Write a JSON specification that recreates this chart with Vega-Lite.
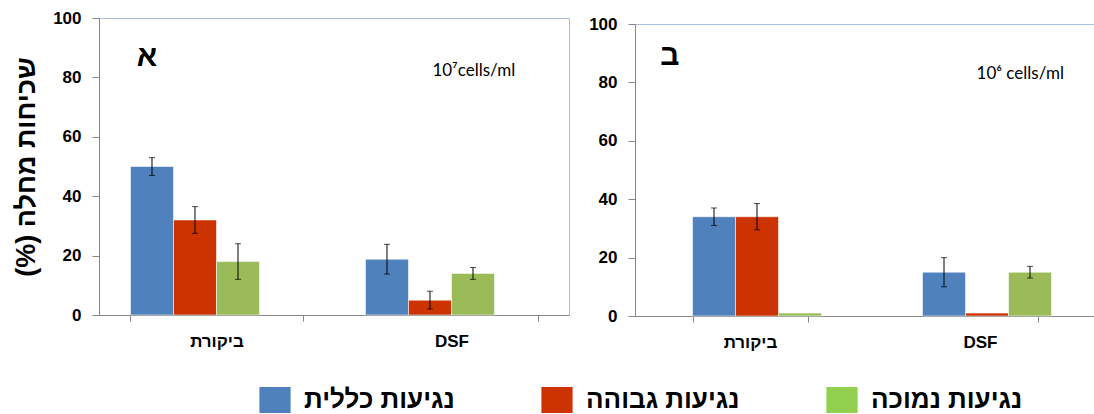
{
  "$schema": "https://vega.github.io/schema/vega-lite/v6.json",
  "background": "white",
  "padding": {"left": 12, "top": 8, "right": 0, "bottom": 0},
  "spacing": 18,
  "datasets": {
    "a": [
      {"cat": "ביקורת", "series": "נגיעות כללית", "value": 50, "lo": 47, "hi": 53},
      {"cat": "ביקורת", "series": "נגיעות גבוהה", "value": 32, "lo": 27.5, "hi": 36.5},
      {"cat": "ביקורת", "series": "נגיעות נמוכה", "value": 18, "lo": 12, "hi": 24},
      {"cat": "DSF", "series": "נגיעות כללית", "value": 18.8, "lo": 13.8, "hi": 23.8},
      {"cat": "DSF", "series": "נגיעות גבוהה", "value": 5, "lo": 2, "hi": 8},
      {"cat": "DSF", "series": "נגיעות נמוכה", "value": 14, "lo": 12, "hi": 16}
    ],
    "b": [
      {"cat": "ביקורת", "series": "נגיעות כללית", "value": 34, "lo": 31, "hi": 37},
      {"cat": "ביקורת", "series": "נגיעות גבוהה", "value": 34, "lo": 29.5, "hi": 38.5},
      {"cat": "ביקורת", "series": "נגיעות נמוכה", "value": 1, "lo": null, "hi": null},
      {"cat": "DSF", "series": "נגיעות כללית", "value": 15, "lo": 10, "hi": 20},
      {"cat": "DSF", "series": "נגיעות גבוהה", "value": 1, "lo": null, "hi": null},
      {"cat": "DSF", "series": "נגיעות נמוכה", "value": 15, "lo": 13, "hi": 17}
    ],
    "notesA1": [{"cat": "ביקורת", "y": 87, "text": "א"}],
    "notesA2": [{"cat": "DSF", "y": 82, "text": "10⁷cells/ml"}],
    "notesB1": [{"cat": "ביקורת", "y": 89, "text": "ב"}],
    "notesB2": [{"cat": "DSF", "y": 83, "text": "10⁶ cells/ml"}],
    "blank": [{"k": 0}]
  },
  "hconcat": [
    {
      "width": 470,
      "height": 297,
      "layer": [
        {
          "data": {"name": "a"},
          "mark": {"type": "bar", "stroke": "#FFFFFF", "strokeWidth": 0.8, "strokeOpacity": 0.7},
          "encoding": {
            "x": {"field": "cat", "type": "nominal", "sort": ["ביקורת", "DSF"],
                  "scale": {"paddingInner": 0.268, "paddingOuter": 0.134},
                  "axis": {"title": null, "labelAngle": 0, "tickBand": "extent", "tickSize": 6, "labelPadding": 12}},
            "xOffset": {"field": "series", "type": "nominal",
                        "scale": {"domain": ["נגיעות כללית", "נגיעות גבוהה", "נגיעות נמוכה", "—"]}},
            "y": {"field": "value", "type": "quantitative",
                  "scale": {"domain": [0, 100]},
                  "axis": {"values": [0, 20, 40, 60, 80, 100], "title": "(%) שכיחות מחלה",
                           "titleFontSize": 27, "titleFontWeight": "bold", "titlePadding": 12}},
            "color": {"condition": {"test": "datum.series === 'נגיעות נמוכה'", "value": "#9BBB59"},
                      "field": "series", "type": "nominal",
                      "scale": {"domain": ["נגיעות כללית", "נגיעות גבוהה", "נגיעות נמוכה"],
                                "range": ["#4F81BD", "#CC3300", "#92D050"]},
                      "legend": {"orient": "none", "legendX": 163, "legendY": 369, "direction": "horizontal",
                                 "title": null, "columnPadding": 86}}
          }
        },
        {
          "data": {"name": "a"},
          "mark": {"type": "rule", "color": "#000000", "strokeWidth": 1},
          "encoding": {
            "x": {"field": "cat", "type": "nominal", "sort": ["ביקורת", "DSF"]},
            "xOffset": {"field": "series", "type": "nominal"},
            "y": {"field": "lo", "type": "quantitative"},
            "y2": {"field": "hi"}
          }
        },
        {
          "data": {"name": "a"},
          "mark": {"type": "tick", "color": "#000000", "thickness": 1, "size": 6},
          "encoding": {
            "x": {"field": "cat", "type": "nominal", "sort": ["ביקורת", "DSF"]},
            "xOffset": {"field": "series", "type": "nominal"},
            "y": {"field": "lo", "type": "quantitative"}
          }
        },
        {
          "data": {"name": "a"},
          "mark": {"type": "tick", "color": "#000000", "thickness": 1, "size": 6},
          "encoding": {
            "x": {"field": "cat", "type": "nominal", "sort": ["ביקורת", "DSF"]},
            "xOffset": {"field": "series", "type": "nominal"},
            "y": {"field": "hi", "type": "quantitative"}
          }
        },
        {
          "data": {"name": "notesA1"},
          "mark": {"type": "text", "font": "Liberation Sans", "fontWeight": "bold", "fontSize": 30, "align": "center", "baseline": "middle", "color": "#000000"},
          "encoding": {
            "x": {"field": "cat", "type": "nominal", "sort": ["ביקורת", "DSF"], "bandPosition": 0.096},
            "y": {"field": "y", "type": "quantitative"},
            "text": {"field": "text"}
          }
        },
        {
          "data": {"name": "notesA2"},
          "mark": {"type": "text", "font": "Lato", "fontSize": 17, "align": "center", "baseline": "middle", "color": "#000000"},
          "encoding": {
            "x": {"field": "cat", "type": "nominal", "sort": ["ביקורת", "DSF"], "bandPosition": 0.63},
            "y": {"field": "y", "type": "quantitative"},
            "text": {"field": "text"}
          }
        }
      ]
    },
    {
      "spacing": -8,
      "vconcat": [
        {
          "width": 460,
          "height": 1,
          "data": {"name": "blank"},
          "view": {"stroke": null},
          "mark": {"type": "point", "opacity": 0},
          "encoding": {}
        },
        {
          "width": 460,
          "height": 292,
          "layer": [
            {
              "data": {"name": "b"},
              "mark": {"type": "bar", "stroke": "#FFFFFF", "strokeWidth": 0.8, "strokeOpacity": 0.7},
              "encoding": {
                "x": {"field": "cat", "type": "nominal", "sort": ["ביקורת", "DSF"],
                      "scale": {"paddingInner": 0.5, "paddingOuter": 0.25},
                      "axis": {"title": null, "labelAngle": 0, "tickBand": "extent", "tickSize": 6, "labelPadding": 12}},
                "xOffset": {"field": "series", "type": "nominal",
                            "scale": {"domain": ["נגיעות כללית", "נגיעות גבוהה", "נגיעות נמוכה"]}},
                "y": {"field": "value", "type": "quantitative",
                      "scale": {"domain": [0, 100]},
                      "axis": {"values": [0, 20, 40, 60, 80, 100], "title": null}},
                "color": {"condition": {"test": "datum.series === 'נגיעות נמוכה'", "value": "#9BBB59"},
                          "field": "series", "type": "nominal", "legend": null}
              }
            },
            {
              "data": {"name": "b"},
              "transform": [{"filter": "isValid(datum.lo)"}],
              "mark": {"type": "rule", "color": "#000000", "strokeWidth": 1},
              "encoding": {
                "x": {"field": "cat", "type": "nominal", "sort": ["ביקורת", "DSF"]},
                "xOffset": {"field": "series", "type": "nominal"},
                "y": {"field": "lo", "type": "quantitative"},
                "y2": {"field": "hi"}
              }
            },
            {
              "data": {"name": "b"},
              "transform": [{"filter": "isValid(datum.lo)"}],
              "mark": {"type": "tick", "color": "#000000", "thickness": 1, "size": 6},
              "encoding": {
                "x": {"field": "cat", "type": "nominal", "sort": ["ביקורת", "DSF"]},
                "xOffset": {"field": "series", "type": "nominal"},
                "y": {"field": "lo", "type": "quantitative"}
              }
            },
            {
              "data": {"name": "b"},
              "transform": [{"filter": "isValid(datum.hi)"}],
              "mark": {"type": "tick", "color": "#000000", "thickness": 1, "size": 6},
              "encoding": {
                "x": {"field": "cat", "type": "nominal", "sort": ["ביקורת", "DSF"]},
                "xOffset": {"field": "series", "type": "nominal"},
                "y": {"field": "hi", "type": "quantitative"}
              }
            },
            {
              "data": {"name": "notesB1"},
              "mark": {"type": "text", "font": "Liberation Sans", "fontWeight": "bold", "fontSize": 30, "align": "center", "baseline": "middle", "color": "#000000"},
              "encoding": {
                "x": {"field": "cat", "type": "nominal", "sort": ["ביקורת", "DSF"], "bandPosition": -0.196},
                "y": {"field": "y", "type": "quantitative"},
                "text": {"field": "text"}
              }
            },
            {
              "data": {"name": "notesB2"},
              "mark": {"type": "text", "font": "Lato", "fontSize": 17, "align": "center", "baseline": "middle", "color": "#000000"},
              "encoding": {
                "x": {"field": "cat", "type": "nominal", "sort": ["ביקורת", "DSF"], "bandPosition": 0.85},
                "y": {"field": "y", "type": "quantitative"},
                "text": {"field": "text"}
              }
            }
          ]
        }
      ]
    }
  ],
  "resolve": {"scale": {"color": "shared"}},
  "config": {
    "font": "Liberation Sans",
    "view": {"stroke": "#A7BFDE", "strokeWidth": 1},
    "axis": {
      "grid": false,
      "domainColor": "#868686",
      "tickColor": "#868686",
      "labelFont": "Liberation Sans",
      "labelFontWeight": "bold",
      "labelFontSize": 17,
      "labelColor": "#000000",
      "titleFont": "Liberation Sans",
      "titleColor": "#000000"
    },
    "axisY": {"tickSize": 7, "labelPadding": 11},
    "legend": {
      "labelFont": "Liberation Sans",
      "labelFontWeight": "bold",
      "labelFontSize": 26,
      "labelColor": "#000000",
      "labelLimit": 400,
      "labelOffset": 16,
      "symbolType": "M-1.2,-1H1.2V1H-1.2Z",
      "symbolSize": 676,
      "symbolStrokeWidth": 0,
      "padding": 0
    }
  }
}
